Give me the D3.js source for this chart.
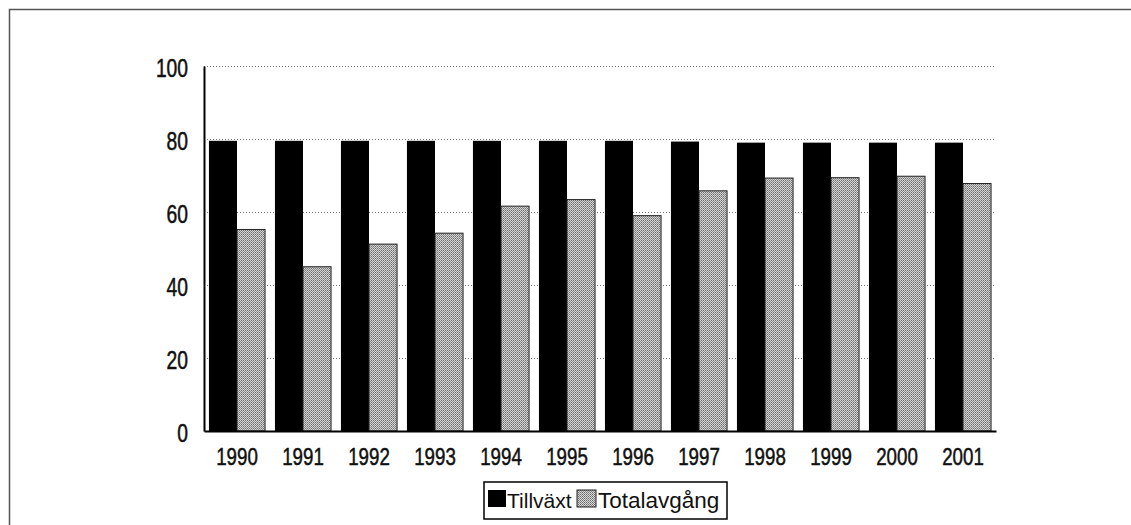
<!DOCTYPE html>
<html>
<head>
<meta charset="utf-8">
<script src="https://cdn.jsdelivr.net/npm/d3@7"></script>
<style>
  body { margin: 0; background: #fff; }
  text { font-family: "Liberation Sans", Arial, sans-serif; fill: #111; }
</style>
</head>
<body>
<svg id="chart" width="1131" height="525"></svg>
<script>
'use strict';

const years = ['1990', '1991', '1992', '1993', '1994', '1995', '1996', '1997', '1998', '1999', '2000', '2001'];
const tillvaxt = [79.5, 79.5, 79.5, 79.5, 79.5, 79.5, 79.5, 79.3, 79, 79, 79, 79];
const totalavgang = [55.2, 45, 51.2, 54.2, 61.6, 63.4, 59, 65.8, 69.3, 69.4, 69.8, 67.8];
const yTicks = [0, 20, 40, 60, 80, 100];
const seriesNames = ['Tillväxt', 'Totalavgång'];

const svg = d3.select('#chart');

// halftone fill for the grey series
const defs = svg.append('defs');
const pat = defs.append('pattern')
    .attr('id', 'dots')
    .attr('width', 2).attr('height', 2)
    .attr('patternUnits', 'userSpaceOnUse');
pat.append('rect').attr('width', 2).attr('height', 2).attr('fill', '#d8d8d8');
pat.append('rect').attr('width', 1).attr('height', 1).attr('fill', '#6a6a6a');
pat.append('rect').attr('x', 1).attr('y', 1).attr('width', 1).attr('height', 1).attr('fill', '#8a8a8a');

// outer frame
svg.append('path')
    .attr('d', 'M9.5,525 V9.5 H1131')
    .attr('fill', 'none')
    .attr('stroke', '#555')
    .attr('stroke-width', 1.5);

const plotLeft = 204, plotRight = 996, plotTop = 66, plotBottom = 431;

const x = d3.scaleBand().domain(years).range([plotLeft, plotRight]).paddingInner(0.15).paddingOuter(0.075);
const xs = d3.scaleBand().domain(seriesNames).range([0, x.bandwidth()]);
const y = d3.scaleLinear().domain([0, 100]).range([plotBottom, plotTop]);

// gridlines
svg.append('g')
    .selectAll('line')
    .data(yTicks.filter(d => d > 0))
    .enter().append('line')
    .attr('x1', plotLeft).attr('x2', plotRight)
    .attr('y1', d => y(d) + 0.5).attr('y2', d => y(d) + 0.5)
    .attr('stroke', '#777')
    .attr('stroke-width', 1)
    .attr('stroke-dasharray', '1,2');

// bars
const groups = svg.append('g')
    .selectAll('g')
    .data(years)
    .enter().append('g')
    .attr('transform', d => 'translate(' + x(d) + ',0)');

groups.append('rect')
    .attr('x', xs('Tillväxt'))
    .attr('width', xs.bandwidth())
    .attr('y', (d, i) => y(tillvaxt[i]))
    .attr('height', (d, i) => y(0) - y(tillvaxt[i]))
    .attr('fill', '#000');

groups.append('rect')
    .attr('x', xs('Totalavgång'))
    .attr('width', xs.bandwidth())
    .attr('y', (d, i) => y(totalavgang[i]))
    .attr('height', (d, i) => y(0) - y(totalavgang[i]))
    .attr('fill', 'url(#dots)')
    .attr('stroke', '#222')
    .attr('stroke-width', 1);

// axes (condensed look via horizontal scaling)
const yAxis = svg.append('g')
    .attr('transform', 'translate(' + plotLeft + ',0)')
    .call(d3.axisLeft(y).tickValues(yTicks).tickSize(0).tickPadding(0));
yAxis.select('.domain').attr('stroke', '#000').attr('stroke-width', 2);
yAxis.selectAll('text')
    .attr('x', -16 / 0.77)
    .attr('font-size', 25)
    .attr('stroke', '#111').attr('stroke-width', 0.5)
    .attr('dy', '0.4em')
    .attr('transform', 'scale(0.77,1)');

const xAxis = svg.append('g')
    .attr('transform', 'translate(0,' + plotBottom + ')')
    .call(d3.axisBottom(x).tickSize(0).tickPadding(0));
xAxis.select('.domain').attr('stroke', '#000').attr('stroke-width', 2);
xAxis.selectAll('text')
    .attr('y', 34)
    .attr('dy', 0)
    .attr('font-size', 24)
    .attr('stroke', '#111').attr('stroke-width', 0.5)
    .attr('transform', 'scale(0.78,1)');

// legend
const lg = svg.append('g').attr('transform', 'translate(484,482)');
lg.append('rect')
    .attr('width', 243).attr('height', 37)
    .attr('fill', '#fff').attr('stroke', '#000').attr('stroke-width', 1.5);
lg.append('rect').attr('x', 4).attr('y', 8).attr('width', 18).attr('height', 17).attr('fill', '#000');
lg.append('text').attr('x', 23).attr('y', 26).attr('font-size', 21).text(seriesNames[0]);
lg.append('rect').attr('x', 93).attr('y', 8).attr('width', 19).attr('height', 17)
    .attr('fill', 'url(#dots)').attr('stroke', '#222');
lg.append('text').attr('x', 114).attr('y', 26).attr('font-size', 22.5).text(seriesNames[1]);
</script>
</body>
</html>
